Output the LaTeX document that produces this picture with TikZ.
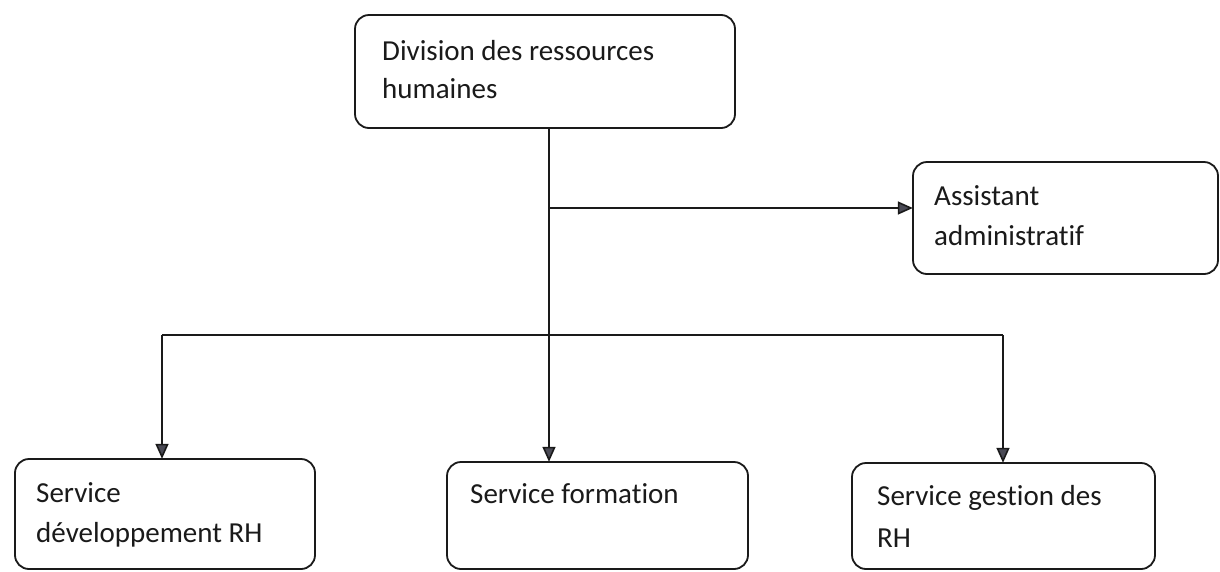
\documentclass[tikz,border=0pt]{standalone}
\usepackage{fontspec}
\setmainfont[Ligatures=NoCommon]{Carlito}
\usetikzlibrary{arrows.meta}
\definecolor{ink}{HTML}{1A1A1A}
\definecolor{tipfill}{HTML}{4A4A55}
\begin{document}
\begin{tikzpicture}[x=1pt,y=-1pt,
  box/.style={draw=ink, line width=1.8pt, rounded corners=14pt},
  lbl/.style={anchor=base west, inner sep=0pt, font=\fontsize{29}{38}\selectfont, text=ink},
  conn/.style={draw=ink, line width=1.6pt},
  arr/.style={conn, -{Triangle[length=15pt,width=13pt,fill=tipfill]}}]
  \useasboundingbox (0,0) rectangle (1220,571);
  \fill[white] (0,0) rectangle (1220,571);
  \clip (0,0) rectangle (1220,571);

  % boxes
  \draw[box] (355,15) rectangle (735,128);
  \node[inner sep=0pt, minimum width=380pt, minimum height=113pt] (top) at (545,71.5) {};
  \draw[box] (913,162) rectangle (1218,274);
  \node[inner sep=0pt, minimum width=305pt, minimum height=112pt] (assist) at (1065.5,218) {};
  \draw[box] (15,459) rectangle (315,569);
  \node[inner sep=0pt, minimum width=300pt, minimum height=110pt] (dev) at (165,514) {};
  \draw[box] (447,462) rectangle (748,569);
  \node[inner sep=0pt, minimum width=301pt, minimum height=107pt] (form) at (597.5,515.5) {};
  \draw[box] (852,463) rectangle (1155,569);
  \node[inner sep=0pt, minimum width=303pt, minimum height=106pt] (gest) at (1003.5,516) {};

  % texts
  \node[lbl] (t1) at (382,60) {Division des ressources};
  \node[lbl] (t2) at (382,98) {humaines};
  \node[lbl] (t3) at (934,205) {Assistant};
  \node[lbl] (t4) at (934,245) {administratif};
  \node[lbl] (t5) at (36,502) {Service};
  \node[lbl] (t6) at (36,542) {développement RH};
  \node[lbl] (t7) at (470,503) {Service formation};
  \node[lbl] (t8) at (877,505) {Service gestion des};
  \node[lbl] (t9) at (877,547) {RH};

  % junctions
  \coordinate (j1) at (549,208);
  \coordinate (bl) at (162,335);
  \coordinate (br) at (1003,335);

  % connectors
  \draw[arr] (j1 |- top.south) -- (j1 |- form.north);
  \draw[arr] (j1) -- (assist.west |- j1);
  \draw[conn] (bl) -- (br);
  \draw[arr] (bl) -- (bl |- dev.north);
  \draw[arr] (br) -- (br |- gest.north);
\end{tikzpicture}
\end{document}
